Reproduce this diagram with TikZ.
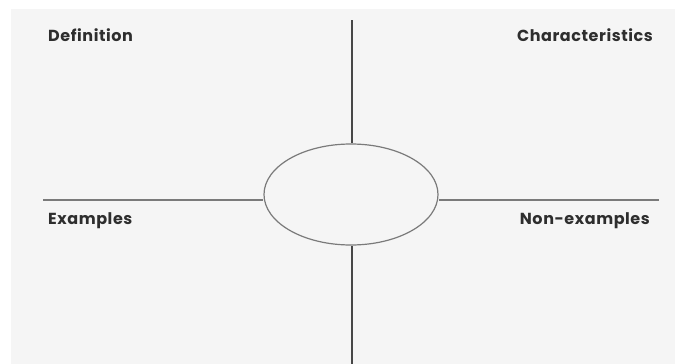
\documentclass[tikz,border=0pt]{standalone}
\usepackage{fontspec}
\setmainfont{Poppins}
\usetikzlibrary{shapes.geometric}
\begin{document}
\begin{tikzpicture}[x=1pt,y=-1pt,
  lbl/.style={font=\fontsize{16}{18}\selectfont\bfseries\addfontfeatures{LetterSpace=3.5}, text=black!82, inner sep=0pt},
  vline/.style={draw=black!72, line width=1.6pt},
  hline/.style={draw=black!52, line width=2.6pt},
  oval/.style={ellipse, draw=black!52, line width=1.2pt, minimum width=174pt, minimum height=101pt, inner sep=0pt}]
\useasboundingbox (0,0) rectangle (675,364);
\fill[black!4] (11,9) rectangle (675,364);
\node[oval] (ell) at (351,194.5) {};
\coordinate (top) at (352,20);
\coordinate (bot) at (352,364);
\coordinate (lft) at (43,200);
\coordinate (rgt) at (659,200);
\draw[vline] (top) -- (top |- ell.north);
\draw[vline] (bot) -- (bot |- ell.south);
\draw[hline] (lft) -- (lft -| ell.west);
\draw[hline] (rgt) -- (rgt -| ell.east);
\node[lbl, anchor=base west] (def) at (48,41) {Definition};
\node[lbl, anchor=base east] (char) at (653,41) {Characteristics};
\node[lbl, anchor=base west] (ex) at (48,224) {Examples};
\node[lbl, anchor=base east] (nex) at (650,224) {Non-examples};
\end{tikzpicture}
\end{document}
